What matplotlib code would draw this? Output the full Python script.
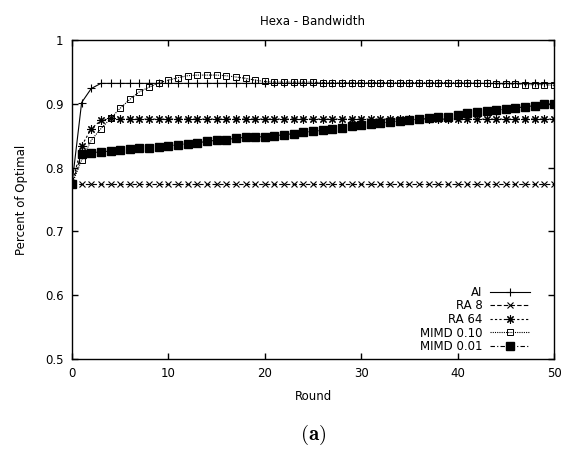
import numpy as np
import matplotlib
matplotlib.use("Agg")
import matplotlib.pyplot as plt

plt.rcParams['font.family'] = 'DejaVu Sans'
plt.rcParams['mathtext.fontset'] = 'cm'

rounds = np.arange(0, 51)

ai = [0.774, 0.902, 0.924, 0.932] + [0.932] * 47
ra8 = [0.774] * 51
ra64 = [0.774, 0.834, 0.861, 0.874, 0.877] + [0.876] * 46
mimd_10 = [0.774, 0.812, 0.843, 0.861, 0.877, 0.893, 0.907, 0.919, 0.926, 0.933,
           0.937, 0.941, 0.944, 0.945, 0.945, 0.945, 0.944, 0.942, 0.940, 0.937,
           0.935, 0.934, 0.934, 0.934, 0.934, 0.934, 0.933, 0.933, 0.933, 0.933,
           0.933, 0.933, 0.933, 0.933, 0.933, 0.933, 0.933, 0.933, 0.933, 0.933,
           0.933, 0.933, 0.932, 0.932, 0.931, 0.931, 0.931, 0.930, 0.930, 0.930,
           0.929]
mimd_01 = [0.774, 0.822, 0.8235, 0.8245, 0.826, 0.827, 0.829, 0.830, 0.831, 0.833,
           0.834, 0.836, 0.8375, 0.839, 0.841, 0.843, 0.844, 0.846, 0.8475, 0.848,
           0.8485, 0.850, 0.8516, 0.8532, 0.8553, 0.8568, 0.8584, 0.8605, 0.8626, 0.8647,
           0.8663, 0.8679, 0.870, 0.8715, 0.873, 0.8746, 0.876, 0.8772, 0.8788, 0.880,
           0.882, 0.885, 0.887, 0.888, 0.890, 0.892, 0.8934, 0.8955, 0.897, 0.899,
           0.900]

labels = ['AI', 'RA 8', 'RA 64', 'MIMD 0.10', 'MIMD 0.01']

fig = plt.figure(figsize=(5.65, 4.49), dpi=100)
ax = fig.add_axes([72 / 565, 1 - 359 / 449, (554 - 72) / 565, (359 - 40) / 449])

lw = 0.8
ax.plot(rounds, ai, '-', color='black', lw=lw, marker='+', ms=6, mew=0.8, label=labels[0])
ax.plot(rounds, ra8, color='black', lw=lw, ls=(0, (4, 2)), marker='x', ms=4.5, mew=0.8, label=labels[1])
ax.plot(rounds, ra64, color='black', lw=lw, ls=(0, (2, 2)), marker=(8, 2, 0), ms=6, mew=0.8, label=labels[2])
ax.plot(rounds, mimd_10, color='black', lw=lw, ls=(0, (1, 1)), marker='s', ms=5, mfc='none', mew=0.7, label=labels[3])
ax.plot(rounds, mimd_01, color='black', lw=lw, ls=(0, (4, 2, 1, 2)), marker='s', ms=5.2, mfc='black', label=labels[4])

ax.set_xlim(0, 50)
ax.set_ylim(0.5, 1)
ax.set_xticks([0, 10, 20, 30, 40, 50])
ax.set_yticks([0.5, 0.6, 0.7, 0.8, 0.9, 1.0])
ax.set_yticklabels(['0.5', '0.6', '0.7', '0.8', '0.9', '1'])
ax.tick_params(direction='in', length=4.5, width=1, top=True, right=True, labelsize=8.5, pad=6)
for sp in ax.spines.values():
    sp.set_linewidth(1)

ax.set_title('Hexa - Bandwidth', fontsize=8.5, pad=11)
ax.set_xlabel('Round', fontsize=8.5, labelpad=7)
ax.set_ylabel('Percent of Optimal', fontsize=8.5, labelpad=12)

ax.legend(loc='lower right', bbox_to_anchor=(0.962, 0.0), frameon=False, fontsize=8.5,
          markerfirst=False, handlelength=3.4, handletextpad=0.6, labelspacing=0.05,
          borderpad=0, numpoints=1)

fig.text(313 / 565, 1 - 435 / 449, r'$\mathbf{(a)}$', fontsize=15, ha='center', va='center')

fig.savefig('out.png', dpi=100)
